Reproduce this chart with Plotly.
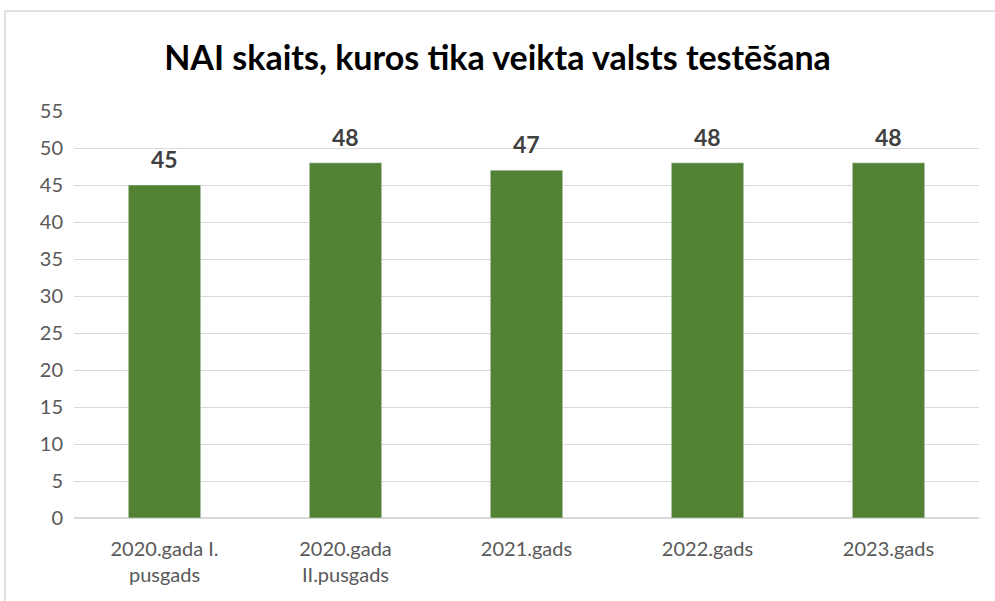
import plotly.graph_objects as go

# periods and the number of NAI tested in each
periods = ['2020.gada I.<br>pusgads', '2020.gada<br>II.pusgads', '2021.gads', '2022.gads', '2023.gads']
counts = [45, 48, 47, 48, 48]
y_ticks = list(range(0, 60, 5))

fig = go.Figure(go.Bar(
    x=periods, y=counts,
    marker=dict(color='#548235'),
    width=0.4,
))

# value labels above the bars
for p, c in zip(periods, counts):
    fig.add_annotation(x=p, y=c, text='<b>%d</b>' % c, showarrow=False,
                       yanchor='bottom', yshift=10,
                       font=dict(family='Lato', size=23, color='#404040'))

fig.update_layout(
    width=995, height=601,
    margin=dict(l=74, r=16, t=111, b=83, autoexpand=False),
    paper_bgcolor='white', plot_bgcolor='white',
    title=dict(text='<b>NAI skaits, kuros tika veikta valsts testēšana</b>',
               x=0.5, xref='container', xanchor='center',
               y=1 - 58 / 601, yanchor='middle',
               font=dict(family='Lato', size=34, color='black')),
    showlegend=False,
    font=dict(family='Lato', size=20, color='#595959'),
)
fig.update_yaxes(range=[0, 55], tickvals=y_ticks, showgrid=True, gridcolor='#d9d9d9',
                 gridwidth=1, zeroline=True, zerolinecolor='#d9d9d9', zerolinewidth=2,
                 ticks='', ticklabelstandoff=10, showline=False, automargin=False)
fig.update_xaxes(showgrid=False, ticks='', showline=False, ticklabelstandoff=17,
                 automargin=False)

# outer chart border (cropped at right and bottom in the picture)
fig.add_shape(type='rect', xref='paper', yref='paper',
              x0=(5 - 74) / 905, x1=1.2, y0=-0.5, y1=(518 - 11) / 407,
              line=dict(color='#d9d9d9', width=1.5), layer='below')

# drop the browser's default body margin so the figure sits at the page corner
fig.write_html('out.html', config={'displayModeBar': False},
               post_script="document.body.style.margin='0px';")
